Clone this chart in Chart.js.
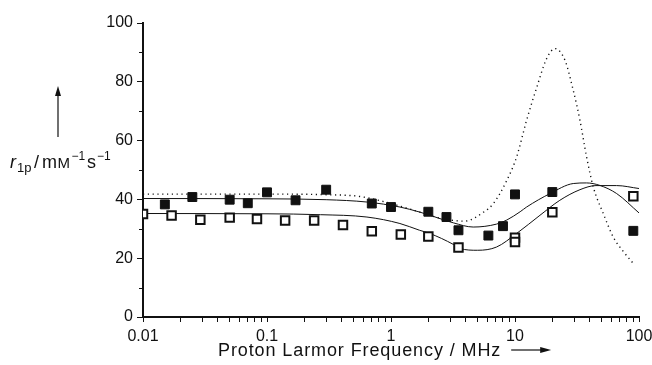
<!DOCTYPE html>
<html>
<head>
<meta charset="utf-8">
<script src="https://cdn.jsdelivr.net/npm/chart.js@4.4.1/dist/chart.umd.min.js"></script>
<style>
  html, body { margin: 0; padding: 0; background: #fff; }
  #wrap { width: 652px; height: 365px; }
</style>
</head>
<body>
<div id="wrap"><canvas id="chart" width="652" height="365"></canvas></div>
<script>
// measured points (filled / open squares)
const filledX = [0.015, 0.025, 0.05, 0.07, 0.1, 0.17, 0.30, 0.7, 1.0, 2.0, 2.8, 3.5, 6.1, 8.0, 10, 20, 90];
const filledY = [38.3, 40.8, 39.9, 38.7, 42.4, 39.7, 43.3, 38.6, 37.4, 35.8, 34.0, 29.5, 27.7, 30.9, 41.7, 42.5, 29.3];
const openX = [0.01, 0.017, 0.029, 0.05, 0.083, 0.14, 0.24, 0.41, 0.7, 1.2, 2.0, 3.5, 10, 10, 20, 90];
const openY = [35.0, 34.5, 33.1, 33.8, 33.3, 32.8, 32.8, 31.3, 29.2, 28.1, 27.4, 23.6, 27.0, 25.5, 35.6, 41.1];

// fitted curves
const fitFilledX = [0.01, 0.1, 0.3, 0.64, 1.18, 1.7, 2.2, 3.2, 4.6, 7.1, 8.6, 11, 12.4, 19.2, 29.5, 37.8, 48, 66, 100];
const fitFilledY = [40.3, 40.2, 39.9, 39.1, 37.4, 35.7, 34.2, 32.0, 30.6, 31.6, 33.0, 35.8, 37.4, 42.0, 45.4, 45.6, 44.8, 42.0, 35.4];
const fitOpenX = [0.01, 0.1, 0.27, 0.64, 1.18, 1.7, 2.06, 3.18, 3.6, 5.0, 7.1, 10.3, 15.9, 23, 33.4, 45, 66, 100];
const fitOpenY = [35.2, 35.1, 34.8, 34.0, 31.8, 29.5, 28.4, 24.7, 23.3, 22.7, 23.8, 28.4, 34.6, 39.7, 43.3, 44.7, 44.7, 43.7];
const dotX = [0.01, 0.1, 0.3, 0.56, 1.0, 1.7, 2.5, 3.9, 5.6, 6.7, 8.6, 10.3, 12.4, 15, 18, 21, 25.3, 29.5, 33.4, 37.8, 42.8, 51.5, 62, 75, 90];
const dotY = [41.8, 41.8, 41.6, 41.0, 38.6, 35.7, 33.6, 32.6, 35.7, 38.6, 46.5, 54.4, 66.9, 78.2, 87.9, 91.3, 87.3, 77.1, 66.9, 54.4, 44.2, 35.2, 27.2, 22.2, 18.2];

// axis ticks
const xTickValues = [0.01, 0.02, 0.03, 0.04, 0.05, 0.06, 0.07, 0.08, 0.09,
  0.1, 0.2, 0.3, 0.4, 0.5, 0.6, 0.7, 0.8, 0.9,
  1, 2, 3, 4, 5, 6, 7, 8, 9,
  10, 20, 30, 40, 50, 60, 70, 80, 90, 100];
const xTickLabels = ['0.01', '0.1', '1', '10', '100'];
const yTickLabels = ['0', '20', '40', '60', '80', '100'];
const yMinorTicks = [10, 30, 50, 70, 90];

const FONT = '"Liberation Sans", Arial, Helvetica, sans-serif';

function pts(xs, ys) {
  return xs.map((x, i) => ({ x: x, y: ys[i] }));
}

function curve(xs, ys, dash) {
  return {
    data: pts(xs, ys),
    showLine: true,
    pointRadius: 0,
    borderColor: '#111',
    borderWidth: dash ? 1.4 : 1,
    borderDash: dash || [],
    cubicInterpolationMode: 'monotone',
    order: 2
  };
}

// axis titles, arrows, short minor ticks on y
const titlesPlugin = {
  id: 'titles',
  afterDraw(chart) {
    const ctx = chart.ctx;
    const ys = chart.scales.y;
    ctx.save();
    ctx.fillStyle = '#111';
    ctx.strokeStyle = '#111';

    ctx.lineWidth = 1;
    yMinorTicks.forEach(v => {
      const py = Math.round(ys.getPixelForValue(v)) + 0.5;
      ctx.beginPath();
      ctx.moveTo(ys.right - 4, py);
      ctx.lineTo(ys.right, py);
      ctx.stroke();
    });

    ctx.textBaseline = 'alphabetic';
    ctx.textAlign = 'left';

    // y title, piece by piece
    const base = 168;
    const put = (txt, x, size, dy, italic) => {
      ctx.font = (italic ? 'italic ' : '') + size + 'px ' + FONT;
      ctx.fillText(txt, x, base + dy);
    };
    put('r', 10, 18, 0, true);
    put('1p', 17, 13, 4);
    put('/', 34, 18, 0);
    put('m', 42, 18, 0);
    put('M', 57.5, 15, 0);
    put('\u22121', 71.5, 12, -8);
    put('s', 87, 18, 0);
    put('\u22121', 97, 12, -8);

    // up arrow
    ctx.lineWidth = 1.2;
    ctx.beginPath();
    ctx.moveTo(58, 137);
    ctx.lineTo(58, 94);
    ctx.stroke();
    ctx.beginPath();
    ctx.moveTo(58, 86);
    ctx.lineTo(55, 96);
    ctx.lineTo(61, 96);
    ctx.closePath();
    ctx.fill();

    // x title
    ctx.font = '18px ' + FONT;
    ctx.letterSpacing = '0.9px';
    const xt = 'Proton Larmor Frequency / MHz';
    ctx.fillText(xt, 218, 356);
    const w = ctx.measureText(xt).width;
    ctx.letterSpacing = '0px';
    const ax = 218 + w + 10;
    ctx.beginPath();
    ctx.moveTo(ax, 350);
    ctx.lineTo(ax + 30, 350);
    ctx.stroke();
    ctx.beginPath();
    ctx.moveTo(ax + 40, 350);
    ctx.lineTo(ax + 29, 347);
    ctx.lineTo(ax + 29, 353);
    ctx.closePath();
    ctx.fill();
    ctx.restore();
  }
};

new Chart(document.getElementById('chart'), {
  type: 'scatter',
  data: {
    datasets: [
      {
        data: pts(openX, openY),
        pointStyle: 'rect',
        pointRadius: 6,
        backgroundColor: '#fff',
        borderColor: '#111',
        borderWidth: 2,
        order: 0
      },
      {
        data: pts(filledX, filledY),
        pointStyle: 'rect',
        pointRadius: 6.3,
        backgroundColor: '#111',
        borderColor: '#111',
        borderWidth: 1,
        order: 1
      },
      curve(fitFilledX, fitFilledY),
      curve(fitOpenX, fitOpenY),
      curve(dotX, dotY, [1.2, 3.6])
    ]
  },
  options: {
    responsive: false,
    animation: false,
    layout: { padding: { left: 0, right: 13, top: 23, bottom: 0 } },
    plugins: {
      legend: { display: false },
      tooltip: { enabled: false }
    },
    scales: {
      x: {
        type: 'logarithmic',
        min: 0.01,
        max: 100,
        afterBuildTicks: (scale) => {
          scale.ticks = xTickValues.map(v => ({ value: v }));
        },
        afterFit: (scale) => {
          scale.height = 48;
          scale.paddingLeft = 0;
          scale.paddingRight = 0;
        },
        border: { display: true, color: '#111', width: 2 },
        grid: { drawOnChartArea: false, drawTicks: true, tickLength: 5, color: '#111', tickColor: '#111' },
        ticks: {
          autoSkip: false,
          maxRotation: 0,
          padding: 5,
          color: '#111',
          font: { family: FONT, size: 16 },
          callback: (v) => {
            const lbl = xTickLabels.find(l => Math.abs(parseFloat(l) - v) < 1e-9);
            return lbl || '';
          }
        }
      },
      y: {
        min: 0,
        max: 100,
        afterFit: (scale) => {
          scale.width = 143;
          scale.paddingTop = 0;
          scale.paddingBottom = 0;
        },
        border: { display: true, color: '#111', width: 2 },
        grid: {
          drawOnChartArea: false,
          drawTicks: true,
          tickLength: 6,
          color: '#111',
          tickColor: (c) => (c.tick && yTickLabels.includes(String(c.tick.value))) ? '#111' : 'rgba(0,0,0,0)'
        },
        ticks: {
          stepSize: 10,
          padding: 4,
          color: '#111',
          font: { family: FONT, size: 16 },
          callback: (v) => yTickLabels.includes(String(v)) ? String(v) : ''
        }
      }
    }
  },
  plugins: [titlesPlugin]
});
</script>
</body>
</html>
